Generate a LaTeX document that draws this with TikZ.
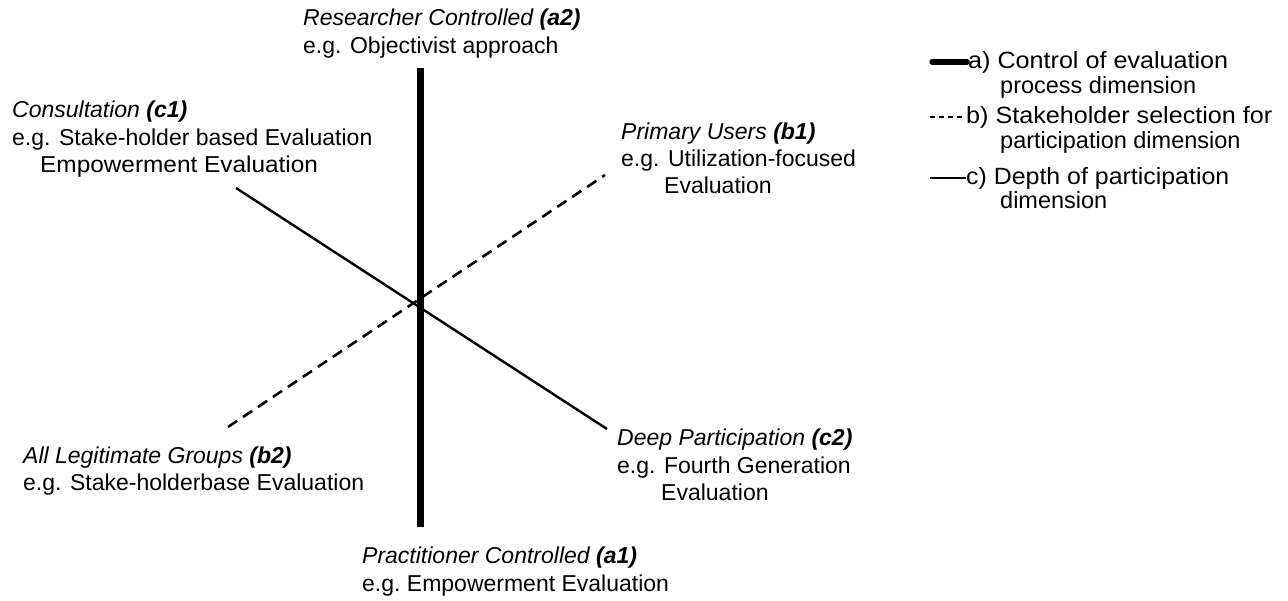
\documentclass[tikz,border=0pt]{standalone}
\usepackage{graphicx}
\usepackage{fontspec}
\setmainfont{Liberation Sans}
\begin{document}
\begin{tikzpicture}[x=1pt,y=-1pt,
  lbl/.style={anchor=base west,inner sep=0pt,font=\fontsize{23}{27}\selectfont},
  keytext/.style={anchor=base west,inner sep=0pt,font=\fontsize{23.5}{27}\selectfont},
  axisA/.style={line width=7pt},
  axisB/.style={line width=2.6pt,dash pattern=on 11pt off 7pt},
  axisC/.style={line width=2.4pt},
  keyA/.style={line width=5.5pt,line cap=round},
  keyB/.style={line width=2pt,dash pattern=on 5pt off 4pt},
  keyC/.style={line width=2pt},
]
\useasboundingbox (0,0) rectangle (1288,600);

% end points of the three dimensions
\coordinate (a2) at (420,68);
\coordinate (a1) at (420,527);
\coordinate (b1) at (605,175);
\coordinate (b2) at (228,427);
\coordinate (c1) at (236,188);
\coordinate (c2) at (607,429);

\draw[axisA] (a2) -- (a1);
\draw[axisB] (b2) -- (b1);
\draw[axisC] (c1) -- (c2);

% pole labels
\node[lbl] (ta2) at (303,25) {\textit{Researcher Controlled \textbf{(a2)}}};
\node[lbl] (ta2e) at (303,53) {e.g. Objectivist approach};

\node[lbl] (tc1) at (12,117) {\textit{Consultation \textbf{(c1)}}};
\node[lbl] (tc1e) at (12,145) {e.g. Stake-holder based Evaluation};
\node[lbl] (tc1f) at (40,172) {\scalebox{1.06}[1]{Empowerment Evaluation}};

\node[lbl] (tb1) at (621,139) {\textit{Primary Users \textbf{(b1)}}};
\node[lbl] (tb1e) at (621,166) {e.g. Utilization-focused};
\node[lbl] (tb1f) at (664,193) {Evaluation};

\node[lbl] (tc2) at (617,445) {\textit{Deep Participation \textbf{(c2)}}};
\node[lbl] (tc2e) at (617,473) {e.g. Fourth Generation};
\node[lbl] (tc2f) at (661,500) {Evaluation};

\node[lbl] (tb2) at (23,463) {\textit{All Legitimate Groups \textbf{(b2)}}};
\node[lbl] (tb2e) at (23,490) {e.g. Stake-holderbase Evaluation};

\node[lbl] (ta1) at (362,563) {\textit{Practitioner Controlled \textbf{(a1)}}};
\node[lbl] (ta1e) at (362,591) {e.g.\ Empowerment Evaluation};

% legend
\node[keytext] (ka) at (968,68) {\scalebox{1.07}[1]{a) Control of evaluation}};
\node[keytext] (ka2) at (1000,93) {process dimension};
\node[keytext] (kb) at (966,123) {\scalebox{1.07}[1]{b) Stakeholder selection for}};
\node[keytext] (kb2) at (1000,148) {participation dimension};
\node[keytext] (kc) at (966,184) {\scalebox{1.06}[1]{c) Depth of participation}};
\node[keytext] (kc2) at (1000,208) {dimension};
\coordinate (kaL) at (932,0);
\coordinate (kbL) at (930,0);
\coordinate (kcL) at (930,0);
\draw[keyA] (kaL |- ka.west) -- ([xshift=-1pt]ka.west);
\draw[keyB] (kbL |- kb.west) -- (kb.west);
\draw[keyC] (kcL |- kc.west) -- (kc.west);
\end{tikzpicture}
\end{document}
